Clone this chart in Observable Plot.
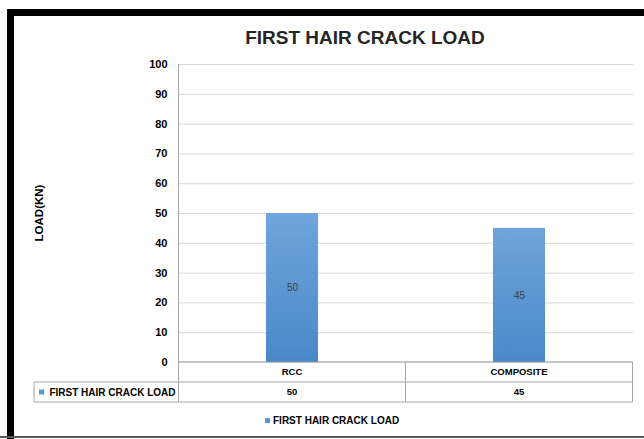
<!DOCTYPE html>
<html><head><meta charset="utf-8">
<script src="https://cdn.jsdelivr.net/npm/d3@7"></script>
<script src="https://cdn.jsdelivr.net/npm/@observablehq/plot@0.6"></script>
<style>
html,body{margin:0;padding:0;background:#fff;}
#wrap{position:relative;width:644px;height:439px;overflow:hidden;background:#fff;font-family:"Liberation Sans",Arial,sans-serif;}
#frame{position:absolute;left:7px;top:9px;width:700px;height:500px;border-left:7px solid #000;border-top:7px solid #000;}
#bottomline{position:absolute;left:0;top:436px;width:644px;height:2px;background:#5a5a5a;}
#title{position:absolute;top:27px;left:0;width:730px;text-align:center;font-weight:bold;font-size:19px;line-height:22px;color:#262626;}
#ylabel{position:absolute;left:39px;top:213px;transform:translate(-50%,-50%) rotate(-90deg);font-weight:bold;font-size:11.5px;white-space:nowrap;color:#000;}
#chart{position:absolute;left:0;top:0;}
</style></head>
<body>
<div id="wrap">
  <div id="frame"></div>
  <div id="chart"></div>
  <div id="title">FIRST HAIR CRACK LOAD</div>
  <div id="ylabel">LOAD(KN)</div>
  <div id="bottomline"></div>
</div>
<script>
const categories = ["RCC", "COMPOSITE"];
const values = [50, 45];
const seriesName = "FIRST HAIR CRACK LOAD";
const yTicks = [0, 10, 20, 30, 40, 50, 60, 70, 80, 90, 100];

const data = categories.map((c, i) => ({category: c, value: values[i]}));

const defs = () => {
  const d = d3.create("svg:defs");
  const g = d.append("linearGradient").attr("id", "barGrad").attr("x1", 0).attr("y1", 0).attr("x2", 0).attr("y2", 1);
  g.append("stop").attr("offset", "0%").attr("stop-color", "#6ea5dc");
  g.append("stop").attr("offset", "100%").attr("stop-color", "#4a89c9");
  return d.node();
};

const plot = Plot.plot({
  width: 644, height: 439,
  marginLeft: 178, marginRight: 11, marginTop: 64, marginBottom: 77,
  style: {background: "transparent", fontFamily: "'Liberation Sans', Arial, sans-serif", fontSize: "11px", fontWeight: "bold", color: "#000", overflow: "visible"},
  x: {domain: categories, paddingInner: 0.77, paddingOuter: 0.385, axis: null},
  y: {domain: [0, 100], axis: null},
  marks: [
    defs,
    Plot.gridY(yTicks.filter(t => t > 0), {stroke: "#d9d9d9", strokeOpacity: 1}),
    Plot.axisY(yTicks, {tickSize: 0, tickPadding: 11, label: null, fontSize: 11, fontWeight: "bold"}),
    Plot.barY(data, {x: "category", y: "value", fill: "url(#barGrad)"}),
    Plot.text(data, {x: "category", y: d => d.value / 2, text: d => String(d.value), fill: "#404040", fontWeight: "normal", fontSize: 10})
  ]
});
document.getElementById("chart").appendChild(plot);

// Data table under the plot, positioned from the plot's scales
const xs = plot.scale("x"), ys = plot.scale("y");
const step = xs.step, bw = xs.bandwidth;
const y0 = ys.apply(0), yTop = ys.apply(100);
const xLeft = xs.apply(categories[0]) + bw / 2 - step / 2;
const xRight = xs.apply(categories[categories.length - 1]) + bw / 2 + step / 2;
const rowH = 20;
const tableLeft = 34;
const svg = d3.select(plot);
const g = svg.append("g").attr("fill", "none");
const line = "#a6a6a6";
g.append("line").attr("x1", xLeft).attr("x2", xLeft).attr("y1", yTop).attr("y2", y0 + 2 * rowH).attr("stroke", "#a6a6a6");
g.append("line").attr("x1", xLeft).attr("x2", xRight).attr("y1", y0).attr("y2", y0).attr("stroke", "#8c8c8c");
g.append("line").attr("x1", tableLeft).attr("x2", xRight).attr("y1", y0 + rowH).attr("y2", y0 + rowH).attr("stroke", line);
g.append("line").attr("x1", tableLeft).attr("x2", xRight).attr("y1", y0 + 2 * rowH).attr("y2", y0 + 2 * rowH).attr("stroke", line);
g.append("line").attr("x1", tableLeft).attr("x2", tableLeft).attr("y1", y0 + rowH).attr("y2", y0 + 2 * rowH).attr("stroke", line);
categories.forEach((c) => {
  const right = xs.apply(c) + bw / 2 + step / 2;
  g.append("line").attr("x1", right).attr("x2", right).attr("y1", y0).attr("y2", y0 + 2 * rowH).attr("stroke", line);
});
const tg = svg.append("g").attr("font-family", "'Liberation Sans', Arial, sans-serif").attr("font-weight", "bold").attr("font-size", 9.5).attr("fill", "#000");
categories.forEach((c, i) => {
  const cx = xs.apply(c) + bw / 2;
  tg.append("text").attr("x", cx).attr("y", y0 + rowH / 2).attr("dy", "0.35em").attr("text-anchor", "middle").text(c);
  tg.append("text").attr("x", cx).attr("y", y0 + rowH * 1.5).attr("dy", "0.35em").attr("text-anchor", "middle").text(String(values[i]));
});
svg.append("rect").attr("x", 39).attr("y", y0 + rowH * 1.5 - 2.5).attr("width", 5).attr("height", 5).attr("fill", "#5b9bd5");
tg.append("text").attr("x", xLeft - 3).attr("y", y0 + rowH * 1.5).attr("dy", "0.35em").attr("text-anchor", "end").attr("font-size", 10).text(seriesName);
// legend
const lg = svg.append("g");
lg.append("rect").attr("x", 265).attr("y", 418).attr("width", 5).attr("height", 5).attr("fill", "#5b9bd5");
lg.append("text").attr("x", 273).attr("y", 420.5).attr("dy", "0.35em").attr("text-anchor", "start").attr("font-family", "'Liberation Sans', Arial, sans-serif").attr("font-weight", "bold").attr("font-size", 10).attr("fill", "#000").text(seriesName);
</script>
</body></html>
